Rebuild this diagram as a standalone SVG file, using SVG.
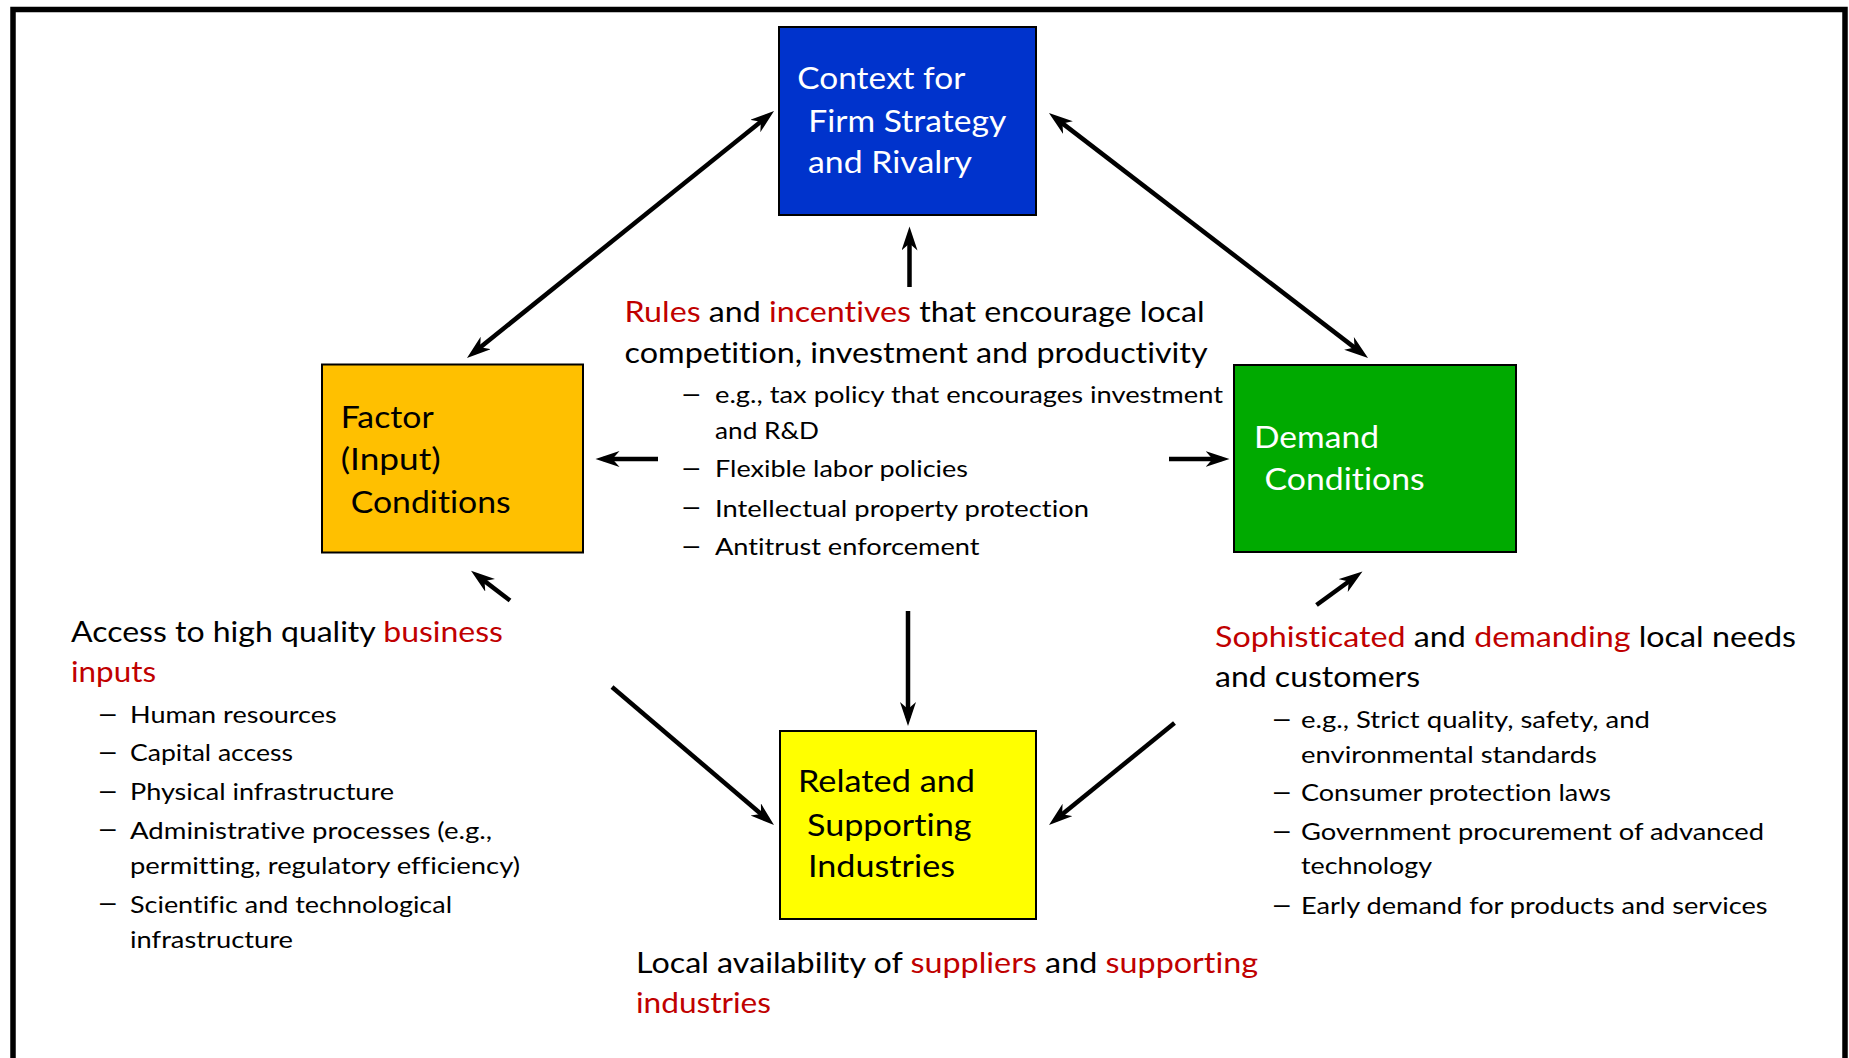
<svg xmlns="http://www.w3.org/2000/svg" width="1849" height="1058" viewBox="0 0 1849 1058">
<style>
  text { font-family: Lato, "Open Sans", "Liberation Sans", sans-serif; font-variant-ligatures: none; }
  .box { stroke: #000; stroke-width: 2; }
  .lbl { font-size: 31.4px; }
  .head { font-size: 28.7px; fill: #000; }
  .bul { font-size: 23.3px; fill: #000; }
  .dash { font-family: "Liberation Sans", Arial, sans-serif; font-size: 28px; fill: #000; }
  .red { fill: #C00000; }
  .white { fill: #fff; }
  .conn line { stroke: #000; stroke-width: 4.5; fill: none; }
</style>
<defs>
  <marker id="ah" markerUnits="userSpaceOnUse" markerWidth="26" markerHeight="18" refX="16" refY="8" orient="auto-start-reverse" viewBox="0 0 26 18">
    <path d="M0,0 L24,8 L0,16 L7,8 Z" fill="#000"/>
  </marker>
</defs>
<rect width="1849" height="1058" fill="#fff"/>
<rect id="frame" x="13" y="9.5" width="1832" height="1100" fill="none" stroke="#000" stroke-width="5.5"/>

<g class="conn" id="connectors">
  <line x1="473.2" y1="353.0" x2="767.8" y2="116.0" marker-start="url(#ah)" marker-end="url(#ah)"/>
  <line x1="1055.3" y1="117.9" x2="1361.7" y2="353.1" marker-start="url(#ah)" marker-end="url(#ah)"/>
  <line x1="909.5" y1="287" x2="909.5" y2="234.5" marker-end="url(#ah)"/>
  <line x1="658" y1="459" x2="603.5" y2="459" marker-end="url(#ah)"/>
  <line x1="1169" y1="459" x2="1221.5" y2="459" marker-end="url(#ah)"/>
  <line x1="908" y1="611" x2="908" y2="718" marker-end="url(#ah)"/>
  <line x1="510" y1="600.5" x2="477.4" y2="575.6" marker-end="url(#ah)"/>
  <line x1="1316.5" y1="605" x2="1356.0" y2="576.2" marker-end="url(#ah)"/>
  <line x1="612" y1="687" x2="767.9" y2="819.8" marker-end="url(#ah)"/>
  <line x1="1174.5" y1="723" x2="1055.2" y2="820.0" marker-end="url(#ah)"/>
</g>

<g id="context">
  <rect class="box" x="779" y="27" width="257" height="188" fill="#0033CC"/>
  <text class="lbl white" x="797.3" y="89.3" textLength="168" lengthAdjust="spacingAndGlyphs">Context for</text>
  <text class="lbl white" x="808.3" y="131.5" textLength="198" lengthAdjust="spacingAndGlyphs">Firm Strategy</text>
  <text class="lbl white" x="808" y="173.3" textLength="164" lengthAdjust="spacingAndGlyphs">and Rivalry</text>
</g>

<g id="factor">
  <rect class="box" x="322" y="364.5" width="261" height="188" fill="#FFC000"/>
  <text class="lbl" x="340.7" y="428.3" textLength="93" lengthAdjust="spacingAndGlyphs">Factor</text>
  <text class="lbl" x="340.7" y="470" textLength="100" lengthAdjust="spacingAndGlyphs">(Input)</text>
  <text class="lbl" x="350.7" y="512.7" textLength="160" lengthAdjust="spacingAndGlyphs">Conditions</text>
</g>

<g id="demand">
  <rect class="box" x="1234" y="365" width="282" height="187" fill="#00AA00"/>
  <text class="lbl white" x="1254" y="448.3" textLength="125" lengthAdjust="spacingAndGlyphs">Demand</text>
  <text class="lbl white" x="1264.6" y="490.4" textLength="160" lengthAdjust="spacingAndGlyphs">Conditions</text>
</g>

<g id="related">
  <rect class="box" x="780" y="731" width="256" height="188" fill="#FFFF00"/>
  <text class="lbl" x="798" y="792" textLength="177" lengthAdjust="spacingAndGlyphs">Related and</text>
  <text class="lbl" x="807" y="835.5" textLength="164.5" lengthAdjust="spacingAndGlyphs">Supporting</text>
  <text class="lbl" x="808" y="877" textLength="147" lengthAdjust="spacingAndGlyphs">Industries</text>
</g>

<g id="rules-text">
  <text class="head" x="624.6" y="321.7" textLength="580" lengthAdjust="spacingAndGlyphs"><tspan class="red">Rules</tspan> and <tspan class="red">incentives</tspan> that encourage local</text>
  <text class="head" x="624.6" y="363.3" textLength="583" lengthAdjust="spacingAndGlyphs">competition, investment and productivity</text>
  <text class="dash" x="683.5" y="402">–</text>
  <text class="bul" x="715" y="403.3" textLength="508" lengthAdjust="spacingAndGlyphs">e.g., tax policy that encourages investment</text>
  <text class="bul" x="715" y="439" textLength="104" lengthAdjust="spacingAndGlyphs">and R&amp;D</text>
  <text class="dash" x="683.5" y="476">–</text>
  <text class="bul" x="715" y="477.3" textLength="253" lengthAdjust="spacingAndGlyphs">Flexible labor policies</text>
  <text class="dash" x="683.5" y="515.4">–</text>
  <text class="bul" x="715" y="516.7" textLength="374" lengthAdjust="spacingAndGlyphs">Intellectual property protection</text>
  <text class="dash" x="683.5" y="553.7">–</text>
  <text class="bul" x="715" y="555" textLength="264.5" lengthAdjust="spacingAndGlyphs">Antitrust enforcement</text>
</g>

<g id="inputs-text">
  <text class="head" x="71" y="641.7" textLength="432" lengthAdjust="spacingAndGlyphs">Access to high quality <tspan class="red">business</tspan></text>
  <text class="head red" x="71" y="681.7" textLength="85" lengthAdjust="spacingAndGlyphs">inputs</text>
  <text class="dash" x="100" y="721.7">–</text>
  <text class="bul" x="130" y="723" textLength="206.7" lengthAdjust="spacingAndGlyphs">Human resources</text>
  <text class="dash" x="100" y="760">–</text>
  <text class="bul" x="130" y="761.3" textLength="163" lengthAdjust="spacingAndGlyphs">Capital access</text>
  <text class="dash" x="100" y="798.7">–</text>
  <text class="bul" x="130" y="800" textLength="264" lengthAdjust="spacingAndGlyphs">Physical infrastructure</text>
  <text class="dash" x="100" y="837.4">–</text>
  <text class="bul" x="130" y="838.7" textLength="362" lengthAdjust="spacingAndGlyphs">Administrative processes (e.g.,</text>
  <text class="bul" x="130" y="874" textLength="390" lengthAdjust="spacingAndGlyphs">permitting, regulatory efficiency)</text>
  <text class="dash" x="100" y="911.4">–</text>
  <text class="bul" x="130" y="912.7" textLength="322" lengthAdjust="spacingAndGlyphs">Scientific and technological</text>
  <text class="bul" x="130" y="947.5" textLength="163" lengthAdjust="spacingAndGlyphs">infrastructure</text>
</g>

<g id="demand-text">
  <text class="head" x="1215" y="646.5" textLength="581" lengthAdjust="spacingAndGlyphs"><tspan class="red">Sophisticated</tspan> and <tspan class="red">demanding</tspan> local needs</text>
  <text class="head" x="1215" y="686.5" textLength="205" lengthAdjust="spacingAndGlyphs">and customers</text>
  <text class="dash" x="1274" y="726.5">–</text>
  <text class="bul" x="1301" y="727.8" textLength="349" lengthAdjust="spacingAndGlyphs">e.g., Strict quality, safety, and</text>
  <text class="bul" x="1301" y="762.5" textLength="296" lengthAdjust="spacingAndGlyphs">environmental standards</text>
  <text class="dash" x="1274" y="799.5">–</text>
  <text class="bul" x="1301" y="800.8" textLength="310" lengthAdjust="spacingAndGlyphs">Consumer protection laws</text>
  <text class="dash" x="1274" y="838.7">–</text>
  <text class="bul" x="1301" y="840" textLength="463" lengthAdjust="spacingAndGlyphs">Government procurement of advanced</text>
  <text class="bul" x="1301" y="874" textLength="131" lengthAdjust="spacingAndGlyphs">technology</text>
  <text class="dash" x="1274" y="912.7">–</text>
  <text class="bul" x="1301" y="914" textLength="466.5" lengthAdjust="spacingAndGlyphs">Early demand for products and services</text>
</g>

<g id="supply-text">
  <text class="head" x="636" y="973" textLength="622" lengthAdjust="spacingAndGlyphs">Local availability of <tspan class="red">suppliers</tspan> and <tspan class="red">supporting</tspan></text>
  <text class="head red" x="636" y="1013" textLength="135" lengthAdjust="spacingAndGlyphs">industries</text>
</g>
</svg>
